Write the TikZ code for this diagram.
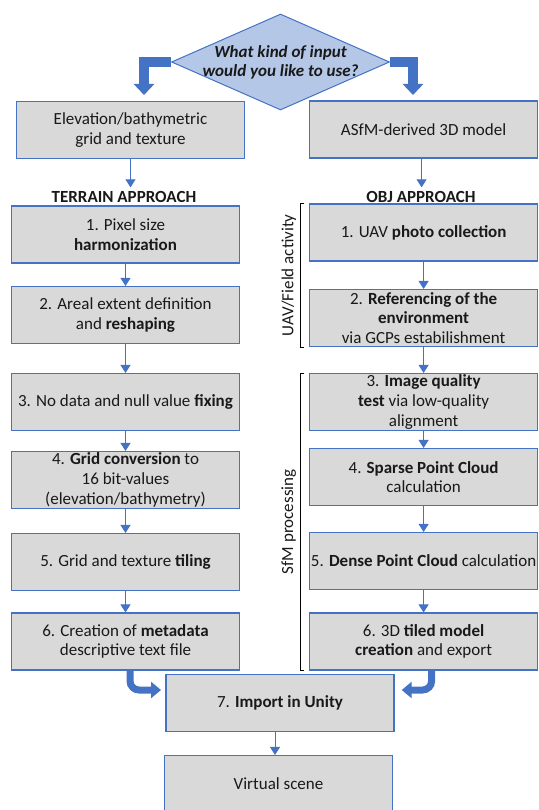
\documentclass[tikz,border=0pt]{standalone}
\usepackage{fontspec}
\setmainfont{Carlito}
\usetikzlibrary{shapes.geometric,arrows.meta}
\definecolor{boxgray}{HTML}{D9D9D9}
\definecolor{linkblue}{HTML}{4472C4}
\definecolor{askblue}{HTML}{B4C7E7}

\begin{document}
\begin{tikzpicture}[x=1pt, y=-1pt,
  every node/.style={font=\fontsize{17}{19.7}\selectfont, text=black!90},
  stage/.style={draw=linkblue, line width=1.1pt, fill=boxgray, minimum width=228pt, minimum height=57pt, align=center, inner sep=0pt},
  ask/.style={diamond, draw=linkblue, line width=1pt, fill=askblue, minimum width=218pt, minimum height=96pt, inner sep=0pt},
  head/.style={font=\fontsize{17}{19.7}\selectfont\bfseries},
  flow/.style={draw=linkblue, line width=0.9pt, -{Triangle[width=10pt,length=8pt]}},
  fat/.style={draw=linkblue, line width=9.5pt, -{Triangle[width=20pt,length=11pt]}},
  hookarrow/.style={draw=linkblue, line width=7pt, rounded corners=9pt, -{Triangle[width=16pt,length=10pt]}},
  brace/.style={draw=black, line width=0.8pt}]
  \useasboundingbox (0,0) rectangle (538,810);
  \clip (0,0) rectangle (538,810);

  % question
  \node[ask] (q) at (280.5,62) {};
  \node[font=\fontsize{17}{19}\selectfont\bfseries\itshape, align=center] (qt) at (q) {What kind of input\\would you like to use?};

  % inputs
  \node[stage] (t0) at (130.5,130) {Elevation/bathymetric\\grid and texture};
  \node[stage] (o0) at (423.6,129.5) {ASfM-derived 3D model};
  \node[head] (tA) at (124,196.5) {TERRAIN APPROACH};
  \node[head] (oA) at (421,196.5) {OBJ APPROACH};

  % terrain approach
  \node[stage] (t1) at (125.5,234.5) {1. Pixel size\\\textbf{harmonization}};
  \node[stage] (t2) at (125.5,315) {2. Areal extent definition\\and \textbf{reshaping}};
  \node[stage] (t3) at (125.5,402) {3. No data and null value \textbf{fixing}};
  \node[stage] (t4) at (125.5,480) {4. \textbf{Grid conversion} to\\16 bit-values\\(elevation/bathymetry)};
  \node[stage] (t5) at (125.5,562) {5. Grid and texture \textbf{tiling}};
  \node[stage] (t6) at (125.5,641.5) {6. Creation of \textbf{metadata}\\descriptive text file};

  % obj approach
  \node[stage] (o1) at (423.6,232.5) {1. UAV \textbf{photo collection}};
  \node[stage] (o2) at (423.6,318) {2. \textbf{Referencing of the}\\\textbf{environment}\\via GCPs estabilishment};
  \node[stage] (o3) at (423.6,402) {3. \textbf{Image quality}\\\textbf{test} via low-quality\\alignment};
  \node[stage] (o4) at (423.6,477) {4. \textbf{Sparse Point Cloud}\\calculation};
  \node[stage] (o5) at (423.6,561) {5. \textbf{Dense Point Cloud} calculation};
  \node[stage] (o6) at (423.6,641.5) {6. 3D \textbf{tiled model}\\\textbf{creation} and export};

  % output
  \node[stage] (imp) at (280,703) {7. \textbf{Import in Unity}};
  \node[stage] (vs) at (278.5,784) {Virtual scene};

  % fat arrows
  \coordinate (lt) at (144,95);
  \coordinate (rt) at (413,95);
  \draw[fat] (q.west) -| (lt);
  \draw[fat] (q.east) -| (rt);
  \coordinate (li) at (161,690);
  \coordinate (ri) at (401.7,690);
  \draw[hookarrow] ([xshift=4.5pt]t6.south) |- (li);
  \draw[hookarrow] ([xshift=8pt]o6.south) |- (ri);

  % thin arrows
  \draw[flow] (t0.south) -- (t0.south |- tA.north);
  \draw[flow] ([xshift=-2pt]o0.south) -- ([xshift=-2pt]o0.south |- oA.north);
  \foreach \a/\b in {t1/t2,t2/t3,t3/t4,t4/t5,t5/t6,o1/o2,o2/o3,o3/o4,o4/o5,o5/o6}
    \draw[flow] (\a.south) -- (\b.north);
  \draw[flow] ([xshift=-5pt]imp.south) -- ([xshift=-5pt]imp.south |- vs.north);

  % brackets
  \draw[brace] ([xshift=-4.6pt]o1.north west) -- ([xshift=-9pt]o1.north west)
    -- ([xshift=-9pt]o2.south west) node[midway, rotate=90, anchor=south, inner sep=3.5pt] (uav) {UAV/Field activity}
    -- ([xshift=-4.6pt]o2.south west);
  \draw[brace] ([xshift=-4.6pt]o3.north west) -- ([xshift=-9pt]o3.north west)
    -- ([xshift=-9pt]o6.south west) node[midway, rotate=90, anchor=south, inner sep=3.5pt] (sfm) {SfM processing}
    -- ([xshift=-4.6pt]o6.south west);
\end{tikzpicture}
\end{document}
